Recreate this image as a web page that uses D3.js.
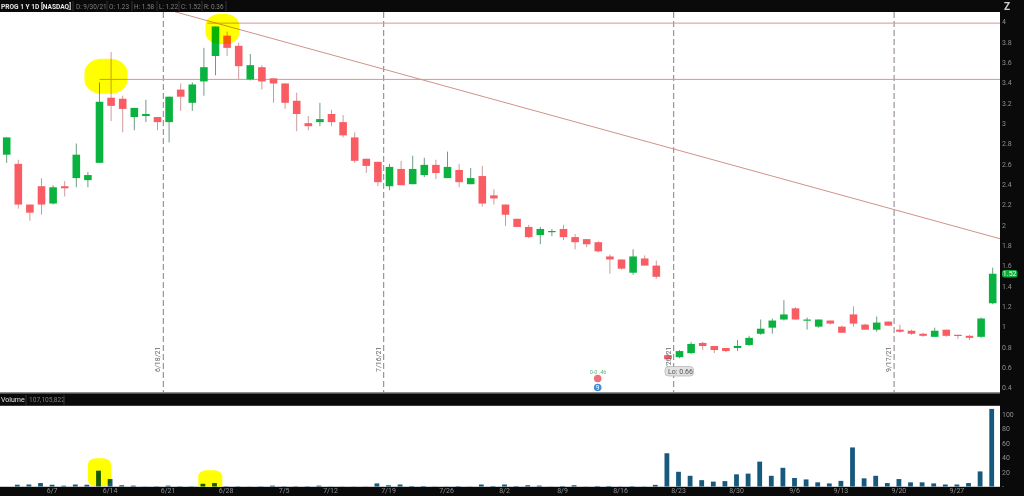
<!DOCTYPE html>
<html>
<head>
<meta charset="utf-8">
<script src="https://cdn.jsdelivr.net/npm/d3@7/dist/d3.min.js"></script>
<style>
html,body{margin:0;padding:0;background:#fff;overflow:hidden}
svg{display:block;filter:blur(0.3px)}
text{font-family:Roboto,"Open Sans",sans-serif}
</style>
</head>
<body>
<svg id="c" width="1024" height="496"></svg>
<script>
const dates = ["6/1","6/2","6/3","6/4","6/7","6/8","6/9","6/10","6/11","6/14","6/15","6/16","6/17","6/18","6/21","6/22","6/23","6/24","6/25","6/28","6/29","6/30",
"7/1","7/2","7/6","7/7","7/8","7/9","7/12","7/13","7/14","7/15","7/16","7/19","7/20","7/21","7/22","7/23","7/26","7/27","7/28","7/29","7/30",
"8/2","8/3","8/4","8/5","8/6","8/9","8/10","8/11","8/12","8/13","8/16","8/17","8/18","8/19","8/20","8/23","8/24","8/25","8/26","8/27","8/30","8/31",
"9/1","9/2","9/3","9/7","9/8","9/9","9/10","9/13","9/14","9/15","9/16","9/17","9/20","9/21","9/22","9/23","9/24","9/27","9/28","9/29","9/30"];
const opens = [2.69,2.60,2.20,2.38,2.21,2.38,2.46,2.44,2.61,3.25,3.24,3.06,3.07,3.06,3.01,3.33,3.20,3.41,3.66,3.86,3.76,3.43,
3.55,3.44,3.39,3.22,3.00,3.01,3.09,3.01,2.86,2.65,2.62,2.38,2.55,2.40,2.49,2.59,2.46,2.54,2.40,2.48,2.29,
2.20,2.06,1.98,1.90,1.93,1.96,1.88,1.86,1.83,1.69,1.66,1.53,1.67,1.60,0.72,0.70,0.74,0.84,0.81,0.79,0.79,0.82,
0.93,0.99,1.07,1.18,1.06,1.00,1.06,1.00,1.12,1.02,0.97,1.05,0.97,0.96,0.93,0.90,0.97,0.92,0.91,0.90,1.23];
const highs = [2.86,2.64,2.20,2.46,2.39,2.43,2.80,2.52,3.40,3.70,3.27,3.15,3.23,3.06,3.26,3.39,3.40,3.74,3.95,3.90,3.79,3.68,
3.57,3.44,3.39,3.30,3.07,3.20,3.13,3.08,2.91,2.65,2.62,2.60,2.63,2.68,2.66,2.64,2.72,2.60,2.56,2.58,2.35,
2.20,2.06,2.00,1.98,1.96,2.00,1.91,1.86,1.84,1.71,1.66,1.76,1.70,1.65,0.74,0.77,0.85,0.85,0.81,0.79,0.87,0.91,
1.07,1.08,1.26,1.19,1.09,1.07,1.06,1.01,1.20,1.03,1.10,1.05,1.02,0.97,0.94,0.99,0.97,0.92,0.92,1.09,1.58];
const lows = [2.61,2.16,2.04,2.10,2.20,2.28,2.37,2.37,2.61,3.02,2.91,2.93,3.01,2.93,2.81,3.12,3.12,3.27,3.47,3.66,3.43,3.42,
3.33,3.20,3.14,2.92,2.93,2.97,2.97,2.86,2.61,2.51,2.38,2.34,2.39,2.40,2.47,2.45,2.46,2.37,2.40,2.18,2.20,
1.99,1.98,1.87,1.81,1.89,1.85,1.76,1.78,1.73,1.52,1.56,1.51,1.60,1.47,0.66,0.69,0.73,0.77,0.74,0.75,0.76,0.81,
0.92,0.93,1.06,1.07,0.97,0.99,1.02,0.94,1.00,0.97,0.95,1.01,0.94,0.92,0.90,0.90,0.90,0.88,0.87,0.89,1.22];
const closes = [2.86,2.20,2.12,2.20,2.37,2.36,2.69,2.49,3.21,3.17,3.14,3.15,3.09,3.01,3.26,3.26,3.38,3.55,3.95,3.74,3.56,3.57,
3.41,3.39,3.20,3.09,2.97,3.04,3.01,2.88,2.63,2.58,2.42,2.57,2.39,2.55,2.59,2.51,2.57,2.42,2.46,2.21,2.26,
2.10,1.98,1.88,1.96,1.94,1.88,1.83,1.81,1.74,1.66,1.57,1.69,1.60,1.49,0.68,0.76,0.83,0.81,0.77,0.76,0.81,0.89,
0.98,1.06,1.12,1.07,1.07,1.07,1.03,0.94,1.03,0.97,1.04,1.01,0.95,0.93,0.91,0.96,0.91,0.91,0.89,1.08,1.52];
const volumes = [0,2.7,3,5,2.7,1.4,3,2.7,22,10.5,2,1.5,0.3,0.6,1.5,0.6,0.5,4,5,0.6,0.6,0.2,
0.5,1.5,0.6,0.6,0.6,1.5,0.3,0.3,0.3,0.3,4.5,2,3,1,1,0.3,0.3,0.8,0.3,3,1,
3,1,2,1.5,0.3,1,2,0.3,1,1,0.3,0.8,0.3,2.5,46,20.5,15,9,7,7.7,17,18,
34.5,15,26,12,10,6,4.5,8,54,11.5,15,5,10.5,6,6,4.5,3,3,5,21,107];
const priceTicks = [0.4,0.6,0.8,1,1.2,1.4,1.6,1.8,2,2.2,2.4,2.6,2.8,3,3.2,3.4,3.6,3.8,4];
const volumeTicks = [20,40,60,80,100];
const dateTicks = ["6/7","6/14","6/21","6/28","7/6","7/12","7/19","7/26","8/2","8/9","8/16","8/23","8/30","9/7","9/13","9/20","9/27"];
const dateTickLabels = ["6/7","6/14","6/21","6/28","7/5","7/12","7/19","7/26","8/2","8/9","8/16","8/23","8/30","9/6","9/13","9/20","9/27"];
const expiryIdx = [13,32,57,76];
const expiryLabels = ["6/18/21","7/16/21","8/20/21","9/17/21"];
const levels = [{p:3.983,from:17.3},{p:3.43,from:8}];
const diagonal = [[14.5,4.095],[85.63,1.864]];
const highlightsPrice = [{c:8.56,p:3.46,rx:21.5,ry:17.5},{c:18.6,p:3.926,rx:17,ry:15}];
const highlightsVolume = [{c:8.0,v:20,rx:11.5,ry:14},{c:17.55,v:9,rx:12,ry:10}];
const headerTitle = "PROG 1 Y 1D [NASDAQ]";
const headerFields = ["D: 9/30/21","O: 1.23","H: 1.58","L: 1.22","C: 1.52","R: 0.36"];

const W=1024,H=496,plotR=1000;
const x = d3.scaleLinear().domain([0,dates.length-1]).range([6.7,992.7]);
const y = d3.scaleLinear().domain([0.4,4]).range([387.7,21.4]);
const yV = d3.scaleLinear().domain([0,100]).range([486.7,414]);
const svg = d3.select("#c");
const rect=(g,a,b,w,h,f)=>g.append("rect").attr("x",a).attr("y",b).attr("width",w).attr("height",h).attr("fill",f);

rect(svg,0,0,W,H,"#0a0a0a");
rect(svg,0,12,plotR,380.5,"#ffffff");
rect(svg,0,392.5,plotR,1,"#9a9a9a");
rect(svg,0,405.8,plotR,81,"#ffffff");

svg.append("defs").html('<clipPath id="pp"><rect x="0" y="12" width="1000" height="380.5"/></clipPath><clipPath id="pv"><rect x="0" y="405.8" width="1000" height="81"/></clipPath>');
const price = svg.append("g").attr("clip-path","url(#pp)");
const vol = svg.append("g").attr("clip-path","url(#pv)");

// expiry lines
price.selectAll("line.e").data(expiryIdx).join("line")
 .attr("x1",d=>x(d+0.5)).attr("x2",d=>x(d+0.5)).attr("y1",12).attr("y2",393)
 .attr("stroke","#8c7b86").attr("stroke-width",1).attr("stroke-dasharray","6,3");
svg.selectAll("text.e").data(expiryIdx).join("text").attr("class","e")
 .attr("transform",(d,i)=>`translate(${x(d+0.5)-3},${372}) rotate(-90)`)
 .attr("font-size",7).attr("fill","#666").text((d,i)=>expiryLabels[i]);

// levels
price.selectAll("line.l").data(levels).join("line")
 .attr("x1",d=>x(d.from)).attr("x2",plotR).attr("y1",d=>y(d.p)).attr("y2",d=>y(d.p))
 .attr("stroke","#d8988e").attr("stroke-width",1);
price.append("line").attr("x1",x(diagonal[0][0])).attr("y1",y(diagonal[0][1]))
 .attr("x2",x(diagonal[1][0])).attr("y2",y(diagonal[1][1]))
 .attr("stroke","#cf9289").attr("stroke-width",1);

// candles
const GREEN="#0ab33f",RED="#f95c62";
const idx=d3.range(dates.length);
const up=i=>closes[i]>=opens[i];
price.selectAll("line.w").data(idx).join("line")
 .attr("x1",i=>x(i)).attr("x2",i=>x(i)).attr("y1",i=>y(highs[i])).attr("y2",i=>y(lows[i]))
 .attr("stroke",i=>up(i)?"#6f9d80":"#cf9a9a").attr("stroke-width",1);
price.selectAll("rect.b").data(idx).join("rect")
 .attr("x",i=>x(i)-3.8).attr("width",7.6)
 .attr("y",i=>y(Math.max(opens[i],closes[i])))
 .attr("height",i=>Math.max(1.2,Math.abs(y(opens[i])-y(closes[i]))))
 .attr("fill",i=>up(i)?GREEN:RED);

// volume
vol.selectAll("rect.v").data(idx).join("rect")
 .attr("x",i=>x(i)-3.4).attr("width",4.8)
 .attr("y",i=>yV(volumes[i])).attr("height",i=>yV(0)-yV(volumes[i]))
 .attr("fill","#17597c");

// highlighter marks
price.selectAll("rect.h").data(highlightsPrice).join("rect")
 .attr("x",d=>x(d.c)-d.rx).attr("y",d=>y(d.p)-d.ry).attr("width",d=>d.rx*2).attr("height",d=>d.ry*2)
 .attr("rx",d=>d.rx*0.8).attr("ry",d=>d.ry*0.8).attr("fill","#ffff00").style("mix-blend-mode","multiply");
vol.selectAll("rect.h").data(highlightsVolume).join("rect")
 .attr("x",d=>x(d.c)-d.rx).attr("y",d=>yV(d.v)-d.ry).attr("width",d=>d.rx*2).attr("height",d=>d.ry*2)
 .attr("rx",8).attr("ry",6).attr("fill","#ffff00").style("mix-blend-mode","multiply");

// axes
function styleAxis(g,col){g.select(".domain").remove();g.selectAll(".tick line").remove();
 g.selectAll("text").attr("fill",col).attr("font-size",7).attr("font-family","Roboto,'Open Sans',sans-serif");}
svg.append("g").attr("transform",`translate(1001,0)`)
 .call(d3.axisRight(y).tickValues(priceTicks).tickSize(0).tickPadding(1).tickFormat(d3.format("~g")))
 .call(g=>styleAxis(g,"#8f8f8f"));
svg.append("g").attr("transform",`translate(1001,0)`)
 .call(d3.axisRight(yV).tickValues(volumeTicks).tickSize(0).tickPadding(1).tickFormat(d3.format("d")))
 .call(g=>styleAxis(g,"#8f8f8f"));
svg.append("text").attr("x",1002).attr("y",489).attr("font-size",7).attr("fill","#8f8f8f").text("-");
svg.append("g").attr("transform",`translate(-1.5,486)`)
 .call(d3.axisBottom(x).tickValues(dateTicks.map(d=>dates.indexOf(d))).tickSize(0).tickPadding(2)
   .tickFormat((d,i)=>dateTickLabels[i]))
 .call(g=>styleAxis(g,"#8f8f8f"));

// header
svg.append("text").attr("x",1).attr("y",8.7).attr("font-size",6.6).attr("font-weight",700).attr("fill","#e8e8e8").text(headerTitle);
const fieldX=[76,109,134,159,181,204], sepX=[73,107,132,157,179,202,226];
svg.selectAll("text.f").data(headerFields).join("text").attr("class","f")
 .attr("x",(d,i)=>fieldX[i]).attr("y",8.7).attr("font-size",6.4).attr("fill","#808080").text(d=>d);
svg.selectAll("line.s").data(sepX).join("line").attr("x1",d=>d).attr("x2",d=>d).attr("y1",1).attr("y2",11).attr("stroke","#333");
svg.append("text").attr("x",1).attr("y",402).attr("font-size",7).attr("fill","#e0e0e0").text("Volume");
svg.append("text").attr("x",29).attr("y",402).attr("font-size",6.6).attr("fill","#808080").text("107,105,822");
[26,64].forEach(a=>svg.append("line").attr("x1",a).attr("x2",a).attr("y1",395).attr("y2",405).attr("stroke","#333"));
svg.append("text").attr("x",1004).attr("y",10).attr("font-size",10).attr("font-weight",700).attr("fill","#cfcfcf").text("Z");

// last price tag
const lastClose=closes[closes.length-1];
svg.append("rect").attr("x",1002).attr("y",y(lastClose)-3.8).attr("width",15.5).attr("height",7.6).attr("rx",2.5).attr("fill","#12a83c");
svg.append("text").attr("x",1009.7).attr("y",y(lastClose)+2.5).attr("text-anchor","middle").attr("font-size",7).attr("fill","#e8ffe8").text(d3.format(".2f")(lastClose));

// low label
svg.append("rect").attr("x",665).attr("y",366.5).attr("width",28.5).attr("height",9.5).attr("rx",3.5).attr("fill","#e2e2e2").attr("stroke","#b0b0b0").attr("stroke-width",0.7);
svg.append("text").attr("x",668).attr("y",373.8).attr("font-size",7).attr("fill","#555").text("Lo: "+d3.min(lows).toFixed(2));

// earnings markers
svg.append("text").attr("x",598).attr("y",373.5).attr("text-anchor","middle").attr("font-size",5.5).attr("fill","#58b878").text("0-0 .46");
svg.append("circle").attr("cx",597.7).attr("cy",378.5).attr("r",3.8).attr("fill","#f0707a");
svg.append("circle").attr("cx",597.7).attr("cy",387.5).attr("r",3.8).attr("fill","#3f8fd8");
svg.append("text").attr("x",597.7).attr("y",390).attr("text-anchor","middle").attr("font-size",6.5).attr("fill","#fff").text("9");
</script>
</body>
</html>
